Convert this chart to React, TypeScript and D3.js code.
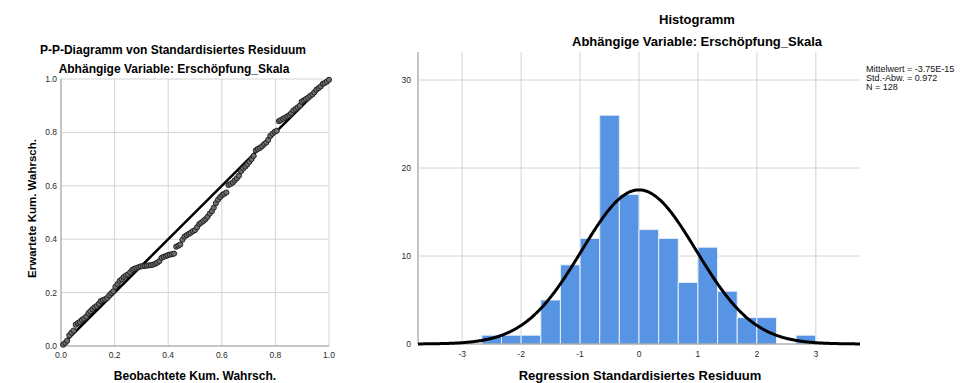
import React from "react";
import * as d3 from "d3";

// P-P plot: observed vs. expected cumulative probability of the standardized residuals
const ppObserved = [
  0.008, 0.016, 0.023, 0.031, 0.039, 0.047, 0.055, 0.063, 0.070, 0.078,
  0.086, 0.094, 0.102, 0.109, 0.117, 0.125, 0.133, 0.141, 0.148, 0.156,
  0.164, 0.172, 0.180, 0.188, 0.195, 0.203, 0.211, 0.219, 0.227, 0.234,
  0.242, 0.250, 0.258, 0.266, 0.273, 0.281, 0.289, 0.297, 0.305, 0.313,
  0.320, 0.328, 0.336, 0.344, 0.352, 0.359, 0.367, 0.375, 0.383, 0.391,
  0.398, 0.406, 0.414, 0.422, 0.430, 0.438, 0.445, 0.453, 0.461, 0.469,
  0.477, 0.484, 0.492, 0.500, 0.508, 0.516, 0.523, 0.531, 0.539, 0.547,
  0.555, 0.563, 0.570, 0.578, 0.586, 0.594, 0.602, 0.609, 0.617, 0.625,
  0.633, 0.641, 0.648, 0.656, 0.664, 0.672, 0.680, 0.688, 0.695, 0.703,
  0.711, 0.719, 0.727, 0.734, 0.742, 0.750, 0.758, 0.766, 0.773, 0.781,
  0.789, 0.797, 0.805, 0.813, 0.820, 0.828, 0.836, 0.844, 0.852, 0.859,
  0.867, 0.875, 0.883, 0.891, 0.898, 0.906, 0.914, 0.922, 0.930, 0.938,
  0.945, 0.953, 0.961, 0.969, 0.977, 0.984, 0.992, 1.000,
];
const ppExpected = [
  0.005, 0.012, 0.020, 0.040, 0.050, 0.058, 0.080, 0.086, 0.090, 0.098,
  0.103, 0.110, 0.122, 0.130, 0.138, 0.145, 0.150, 0.158, 0.168, 0.172,
  0.175, 0.180, 0.190, 0.198, 0.205, 0.222, 0.232, 0.244, 0.250, 0.258,
  0.264, 0.268, 0.276, 0.285, 0.289, 0.292, 0.295, 0.298, 0.299, 0.300,
  0.301, 0.302, 0.303, 0.305, 0.308, 0.312, 0.318, 0.330, 0.334, 0.337,
  0.340, 0.342, 0.344, 0.346, 0.372, 0.376, 0.380, 0.398, 0.410, 0.415,
  0.420, 0.424, 0.430, 0.434, 0.445, 0.457, 0.462, 0.468, 0.475, 0.484,
  0.496, 0.505, 0.518, 0.535, 0.548, 0.558, 0.566, 0.570, 0.575, 0.603,
  0.607, 0.612, 0.620, 0.628, 0.638, 0.655, 0.665, 0.672, 0.680, 0.690,
  0.700, 0.712, 0.733, 0.738, 0.742, 0.748, 0.756, 0.762, 0.772, 0.787,
  0.795, 0.802, 0.806, 0.842, 0.846, 0.851, 0.855, 0.860, 0.865, 0.872,
  0.882, 0.888, 0.894, 0.900, 0.915, 0.920, 0.925, 0.930, 0.937, 0.942,
  0.950, 0.960, 0.966, 0.972, 0.982, 0.985, 0.990, 0.997,
];
const ppTicks = [0, 0.2, 0.4, 0.6, 0.8, 1.0];

// Histogram of the standardized residuals (bins of width 1/3)
const binStarts = [
  -8 / 3, -7 / 3, -2, -5 / 3, -4 / 3, -1, -2 / 3, -1 / 3, 0, 1 / 3, 2 / 3, 1,
  4 / 3, 5 / 3, 2, 7 / 3, 8 / 3,
];
const binCounts = [1, 1, 1, 5, 9, 12, 26, 17, 13, 12, 7, 11, 6, 3, 3, 0, 1];
const binWidth = 1 / 3;
const histXTicks = [-3, -2, -1, 0, 1, 2, 3];
const histYTicks = [0, 10, 20, 30];
const residMean = -3.75e-15;
const residSd = 0.972;
const residN = 128;
const legendLines = ["Mittelwert = -3.75E-15", "Std.-Abw. = 0.972", "N = 128"];

const FONT = "'Liberation Sans', Arial, sans-serif";
const GRID = "#d4d4d4";
const AXIS = "#8c8c8c";
const BAR = "#5795e4";
const TICK = "#2a2a2a";

function PPPlot() {
  const x = d3.scaleLinear().domain([0, 1]).range([61, 329]);
  const y = d3.scaleLinear().domain([0, 1]).range([346, 79]);
  const pts = ppObserved.map((o, i) => [o, ppExpected[i]] as [number, number]);
  return (
    <g>
      <text x={173} y={54} textAnchor="middle" fontSize={12} fontWeight="bold" fontFamily={FONT}>
        P-P-Diagramm von Standardisiertes Residuum
      </text>
      <text x={174} y={73} textAnchor="middle" fontSize={12} fontWeight="bold" fontFamily={FONT}>
        Abhängige Variable: Erschöpfung_Skala
      </text>
      {ppTicks.filter((t) => t > 0).map((t) => (
        <g key={"g" + t}>
          <line x1={x(t)} x2={x(t)} y1={y(0)} y2={y(1)} stroke={GRID} strokeWidth={1} />
          <line x1={x(0)} x2={x(1)} y1={y(t)} y2={y(t)} stroke={GRID} strokeWidth={1} />
        </g>
      ))}
      <line x1={x(0)} x2={x(0)} y1={y(0)} y2={y(1)} stroke={AXIS} strokeWidth={1} />
      <line x1={x(0)} x2={x(1)} y1={y(0)} y2={y(0)} stroke={AXIS} strokeWidth={1} />
      {ppTicks.map((t) => (
        <g key={"t" + t} fontSize={8.5} fontFamily={FONT} fill={TICK}>
          <text x={x(0) - 4} y={y(t) + 3} textAnchor="end">{d3.format(".1f")(t)}</text>
          <text x={x(t)} y={y(0) + 12} textAnchor="middle">{d3.format(".1f")(t)}</text>
        </g>
      ))}
      <line x1={x(0)} y1={y(0)} x2={x(1)} y2={y(1)} stroke="#000" strokeWidth={2.5} />
      {pts.map(([o, e], i) => (
        <circle key={i} cx={x(o)} cy={y(e)} r={2.6} fill="#6e6e6e" stroke="#1a1a1a" strokeWidth={0.9} />
      ))}
      <text
        transform={`translate(36,${(y(0) + y(1)) / 2 - 4}) rotate(-90)`}
        textAnchor="middle"
        fontSize={11.5}
        fontWeight="bold"
        fontFamily={FONT}
      >
        Erwartete Kum. Wahrsch.
      </text>
      <text x={195} y={380} textAnchor="middle" fontSize={12} fontWeight="bold" fontFamily={FONT}>
        Beobachtete Kum. Wahrsch.
      </text>
    </g>
  );
}

function Histogram() {
  const x = d3.scaleLinear().domain([-3.75, 3.75]).range([418, 860]);
  const y = d3.scaleLinear().domain([0, 30]).range([344, 80]);
  const top = 52;
  const curveX = d3.range(-3.75, 3.7501, 0.02);
  const density = (v: number) =>
    (residN * binWidth) / (residSd * Math.sqrt(2 * Math.PI)) *
    Math.exp(-0.5 * ((v - residMean) / residSd) ** 2);
  const line = d3
    .line<number>()
    .x((d) => x(d))
    .y((d) => y(density(d)))
    .curve(d3.curveBasis);
  return (
    <g>
      <text x={697} y={24} textAnchor="middle" fontSize={13} fontWeight="bold" fontFamily={FONT}>
        Histogramm
      </text>
      <text x={697} y={46} textAnchor="middle" fontSize={13} fontWeight="bold" fontFamily={FONT}>
        Abhängige Variable: Erschöpfung_Skala
      </text>
      {histXTicks.map((t) => (
        <line key={"vx" + t} x1={x(t)} x2={x(t)} y1={y(0)} y2={top} stroke={GRID} strokeWidth={1} />
      ))}
      {histYTicks.filter((t) => t > 0).map((t) => (
        <line key={"hy" + t} x1={x(-3.75)} x2={x(3.75)} y1={y(t)} y2={y(t)} stroke={GRID} strokeWidth={1} />
      ))}
      {binStarts.map((s, i) =>
        binCounts[i] > 0 ? (
          <rect
            key={"b" + i}
            x={x(s)}
            y={y(binCounts[i])}
            width={x(s + binWidth) - x(s)}
            height={y(0) - y(binCounts[i])}
            fill={BAR}
            stroke="#e8eefa"
            strokeWidth={1}
          />
        ) : null
      )}
      <line x1={x(-3.75)} x2={x(-3.75)} y1={y(0)} y2={top} stroke={AXIS} strokeWidth={1} />
      <line x1={x(-3.75)} x2={x(3.75)} y1={y(0)} y2={y(0)} stroke={AXIS} strokeWidth={1} />
      <path d={line(curveX) || ""} fill="none" stroke="#000" strokeWidth={3} />
      {histYTicks.map((t) => (
        <text key={"yl" + t} x={x(-3.75) - 7} y={y(t) + 3} textAnchor="end" fontSize={8.5} fontFamily={FONT} fill={TICK}>
          {t}
        </text>
      ))}
      {histXTicks.map((t) => (
        <text key={"xl" + t} x={x(t)} y={y(0) + 13} textAnchor="middle" fontSize={8.5} fontFamily={FONT} fill={TICK}>
          {String(t)}
        </text>
      ))}
      {legendLines.map((s, i) => (
        <text key={"lg" + i} x={866} y={72 + i * 8.8} fontSize={9} fontFamily={FONT} fill="#111">
          {s}
        </text>
      ))}
      <text x={640} y={380} textAnchor="middle" fontSize={13} fontWeight="bold" fontFamily={FONT}>
        Regression Standardisiertes Residuum
      </text>
    </g>
  );
}

export default function App() {
  return (
    <svg width={961} height={383} style={{ position: "absolute", left: 0, top: 0, background: "#fff" }}>
      <rect width={961} height={383} fill="#fff" />
      <PPPlot />
      <Histogram />
    </svg>
  );
}
